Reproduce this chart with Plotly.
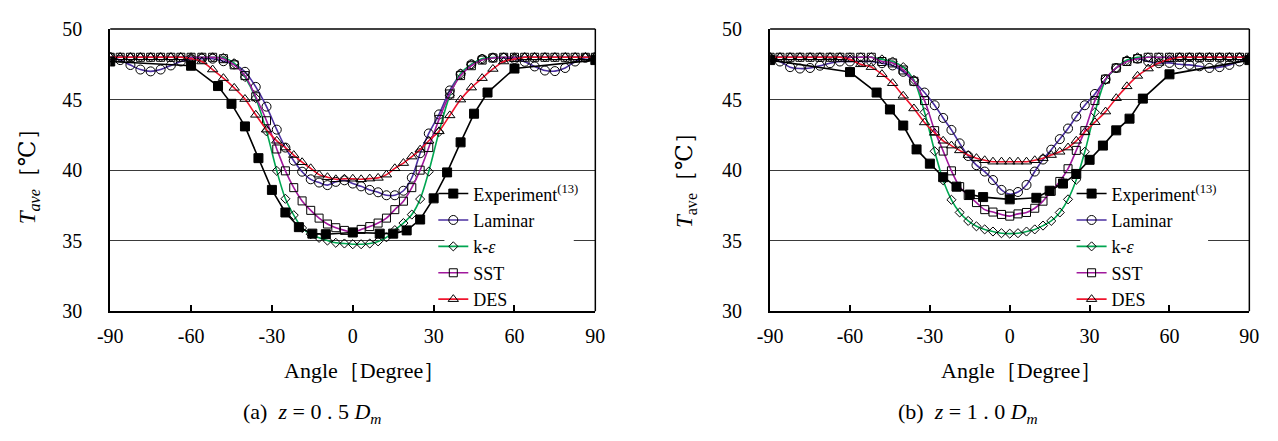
import plotly.graph_objects as go

# ---------------- data ----------------
ANGLE_SIM = [-90, -86.3, -82.5, -78.8, -75, -71.3, -67.5, -63.8, -60, -56, -52, -48, -44, -40, -36, -32,
             -28.2, -25, -21.9, -18.8, -15.6, -12.5, -9.4, -6.3, -3.1, 0, 3.1, 6.3, 9.4, 12.5, 15.6, 18.8,
             21.9, 25, 28.2, 32, 36, 40, 44, 48, 52, 56, 60, 63.8, 67.5, 71.3, 75, 78.8, 82.5, 86.3, 90]
ANGLE_EXP = [-90, -60, -50, -45, -40, -35, -30, -25, -20, -15, -10, 0, 10, 15, 20, 25, 30, 35, 40, 45, 50, 60, 90]

X_TICKS = [-90, -60, -30, 0, 30, 60, 90]
X_TICK_TEXT = ["-90", "-60", "-30", "0", "30", "60", "90"]
Y_TICKS = [30, 35, 40, 45, 50]

# panel (a) z = 0.5 Dm
EXP_A = [47.7, 47.4, 45.96, 44.7, 43.1, 40.85, 38.6, 37.0, 35.96, 35.5, 35.46, 35.58, 35.5, 35.5, 35.73,
         36.5, 38.0, 39.84, 41.97, 44.0, 45.5, 47.2, 47.8]
LAM_A = [48.0, 47.8, 47.45, 47.13, 47.0, 47.13, 47.42, 47.7, 47.85, 47.9, 47.9, 47.72, 47.5, 46.97, 45.9, 44.5,
         42.87, 41.6, 40.67, 39.89, 39.35, 39.12, 38.94, 39.17, 39.28, 39.05, 38.85, 38.6, 38.43, 38.22, 38.22, 38.54,
         39.46, 41.2, 42.6, 43.95, 45.65, 46.8, 47.5, 47.87, 47.97, 47.95, 47.88, 47.68, 47.35, 47.06, 47.02, 47.24, 47.7, 47.96, 48.0]
KE_A = [48.0, 48.0, 48.0, 48.0, 48.0, 48.0, 48.0, 48.0, 48.0, 48.0, 48.0, 47.96, 47.58, 46.6, 45.1, 42.75,
        39.95, 37.97, 36.81, 35.9, 35.46, 35.2, 35.01, 34.85, 34.8, 34.75, 34.75, 34.8, 34.95, 35.24, 35.75, 36.25,
        36.85, 37.95, 39.9, 42.7, 45.3, 46.85, 47.5, 47.9, 47.98, 48.0, 48.0, 48.0, 48.0, 48.0, 48.0, 48.0, 48.0, 48.0, 48.0]
SST_A = [48.0, 48.0, 48.0, 48.0, 48.0, 48.0, 48.0, 48.0, 48.0, 48.0, 48.0, 47.9, 47.46, 46.7, 45.2, 43.5,
         41.5, 39.95, 38.76, 37.82, 37.15, 36.6, 36.18, 35.92, 35.73, 35.6, 35.8, 36.0, 36.25, 36.6, 37.2, 37.8,
         38.76, 40.0, 41.6, 43.6, 45.4, 46.7, 47.4, 47.8, 47.95, 48.0, 48.0, 48.0, 48.0, 48.0, 48.0, 48.0, 48.0, 48.0, 48.0]
DES_A = [48.0, 48.0, 48.0, 48.0, 48.0, 48.0, 48.0, 48.0, 47.9, 47.7, 47.13, 46.52, 45.83, 45.04, 43.92, 42.87,
         42.08, 41.6, 41.07, 40.56, 40.13, 39.68, 39.5, 39.35, 39.39, 39.39, 39.35, 39.4, 39.45, 39.68, 40.13, 40.5,
         40.96, 41.45, 42.08, 42.75, 43.88, 45.0, 45.85, 46.52, 47.17, 47.7, 47.87, 48.0, 48.0, 48.0, 48.0, 48.0, 48.0, 48.0, 48.0]

# panel (b) z = 1.0 Dm
EXP_B = [47.8, 46.95, 45.5, 44.3, 43.16, 41.47, 40.46, 39.5, 38.83, 38.27, 38.09, 37.93, 38.04, 38.54, 39.05,
         39.73, 40.73, 41.74, 42.82, 43.65, 45.07, 46.79, 47.8]
LAM_B = [47.9, 47.7, 47.3, 47.2, 47.24, 47.4, 47.58, 47.7, 47.7, 47.7, 47.7, 47.58, 47.42, 46.97, 46.3, 45.5,
         44.6, 43.7, 42.85, 41.9, 41.0, 40.35, 39.9, 39.3, 38.6, 38.3, 38.45, 38.95, 39.9, 40.75, 41.45, 42.2,
         42.95, 43.8, 44.6, 45.4, 46.45, 47.24, 47.73, 47.9, 47.7, 47.58, 47.6, 47.5, 47.46, 47.36, 47.24, 47.3, 47.46, 47.7, 47.9]
KE_B = [48.0, 48.0, 48.0, 48.0, 48.0, 48.0, 48.0, 48.0, 48.0, 48.0, 48.0, 47.85, 47.7, 47.3, 46.4, 44.1,
        41.34, 39.28, 37.9, 37.0, 36.4, 36.02, 35.8, 35.65, 35.53, 35.5, 35.53, 35.65, 35.8, 36.07, 36.4, 37.0,
        37.93, 39.32, 41.3, 44.1, 46.39, 47.24, 47.8, 48.0, 48.0, 48.0, 48.0, 48.0, 48.0, 48.0, 48.0, 48.0, 48.0, 48.0, 48.0]
SST_B = [48.0, 48.0, 48.0, 48.0, 48.0, 48.0, 48.0, 48.0, 48.0, 48.0, 48.0, 47.7, 47.6, 47.1, 46.3, 44.93,
         42.8, 41.35, 39.95, 38.83, 38.2, 37.7, 37.2, 37.03, 36.86, 36.74, 36.9, 37.0, 37.3, 37.8, 38.5, 39.2,
         40.1, 41.4, 42.8, 44.93, 46.45, 47.24, 47.7, 47.9, 48.0, 48.0, 48.0, 48.0, 48.0, 48.0, 48.0, 48.0, 48.0, 48.0, 48.0]
DES_B = [48.0, 48.0, 48.0, 48.0, 48.0, 48.0, 48.0, 48.0, 47.85, 47.5, 47.3, 46.8, 46.16, 45.27, 44.37, 43.38,
         42.64, 42.08, 41.74, 41.4, 41.07, 40.85, 40.7, 40.6, 40.6, 40.6, 40.6, 40.6, 40.7, 40.85, 41.07, 41.3,
         41.6, 42.08, 42.7, 43.4, 44.15, 45.1, 45.94, 46.68, 47.2, 47.6, 47.85, 48.0, 48.0, 48.0, 48.0, 48.0, 48.0, 48.0, 48.0]

NAMES = ["Experiment<sup>(13)</sup>", "Laminar", "k-<i>ε</i>", "SST", "DES"]
COLORS = ["#000000", "#4B2FA0", "#00A651", "#A0189C", "#F0142D"]
SYMBOLS = ["square", "circle-open", "diamond-open", "square-open", "triangle-up-open"]
MSIZES = [9, 9, 7, 8, 9]

FONT = "Liberation Serif, Times New Roman, DejaVu Serif, serif"

fig = go.Figure()

panels = [
    ("x", "y", "legend", [EXP_A, LAM_A, KE_A, SST_A, DES_A]),
    ("x2", "y2", "legend2", [EXP_B, LAM_B, KE_B, SST_B, DES_B]),
]

for xa, ya, lg, series in panels:
    for i in [1, 2, 3, 4, 0]:
        is_exp = i == 0
        fig.add_trace(go.Scatter(
            x=ANGLE_EXP if is_exp else ANGLE_SIM,
            y=series[i],
            xaxis=xa, yaxis=ya, legend=lg,
            name=NAMES[i], legendrank=i + 1,
            mode="lines+markers",
            line=dict(color=COLORS[i], width=1.6, shape="linear" if is_exp else "spline", smoothing=0.9),
            marker=dict(symbol=SYMBOLS[i], size=MSIZES[i], color="#000000", line=dict(width=1, color="#000000")),
        ))

axis_common_x = dict(range=[-90, 90], tickvals=X_TICKS, ticktext=X_TICK_TEXT, ticks="inside", ticklen=6,
                     tickwidth=1.5, tickcolor="#000", showline=True, linecolor="#000", linewidth=2,
                     showgrid=False, zeroline=False, tickfont=dict(family=FONT, size=20, color="#000"),
                     ticklabelstandoff=6)
axis_common_y = dict(range=[30, 50], tickvals=Y_TICKS, ticks="", showline=True, linecolor="#000", linewidth=2,
                     showgrid=True, gridcolor="#3a3a3a", gridwidth=1, zeroline=False,
                     tickfont=dict(family=FONT, size=20, color="#000"), ticklabelstandoff=22)

YDOM = [1 - 316 / 441, 1 - 19 / 441]
fig.update_layout(
    width=1278, height=441, margin=dict(l=0, r=0, t=0, b=0),
    paper_bgcolor="white", plot_bgcolor="white",
    font=dict(family=FONT, color="#000"),
    xaxis=dict(domain=[99 / 1278, 593 / 1278], anchor="y", **axis_common_x),
    yaxis=dict(domain=YDOM, anchor="x", **axis_common_y),
    xaxis2=dict(domain=[771 / 1278, 1259 / 1278], anchor="y2", **axis_common_x),
    yaxis2=dict(domain=YDOM, anchor="x2", **axis_common_y),
    legend=dict(x=428 / 1278, y=1 - 173 / 441, xanchor="left", yanchor="top", bgcolor="rgba(0,0,0,0)",
                font=dict(family=FONT, size=18, color="#000"), tracegroupgap=0, itemwidth=30),
    legend2=dict(x=1078 / 1278, y=1 - 173 / 441, xanchor="left", yanchor="top", bgcolor="rgba(0,0,0,0)",
                 font=dict(family=FONT, size=18, color="#000"), tracegroupgap=0, itemwidth=30),
    showlegend=True,
)

shapes = []
for xr, yr, gap in [("x", "y", (34, 82)), ("x2", "y2", (26.5, 74.5))]:
    shapes.append(dict(type="line", xref=f"{xr} domain", yref=f"{yr} domain", x0=0, x1=1, y0=1, y1=1,
                       line=dict(color="#000", width=1.5)))
    shapes.append(dict(type="line", xref=f"{xr} domain", yref=f"{yr} domain", x0=1, x1=1, y0=0, y1=1,
                       line=dict(color="#000", width=1.5)))
    shapes.append(dict(type="rect", xref=xr, yref=yr, x0=gap[0], x1=gap[1], y0=34.6, y1=35.4,
                       fillcolor="white", line=dict(width=0), layer="between"))
fig.update_layout(shapes=shapes)

NB = "\u00a0"
ann = []
ann.append(dict(text="<i>T<sub>ave</sub></i>［℃］", x=16 / 1278, y=1 - 168 / 441, textangle=-90, size=23))
ann.append(dict(text="<i>T</i><sub>ave</sub>［℃］", x=686 / 1278, y=1 - 172 / 441, textangle=-90, size=23))
ann.append(dict(text="Angle［Degree］", x=358 / 1278, y=1 - 378 / 441, textangle=0, size=22))
ann.append(dict(text="Angle［Degree］", x=1027 / 1278, y=1 - 378 / 441, textangle=0, size=22))
ann.append(dict(text=f"(a){NB}{NB}<i>z</i>{NB}={NB}0{NB}.{NB}5{NB}<i>D<sub>m</sub></i>",
                x=304 / 1278, y=1 - 423 / 441, textangle=0, size=22))
ann.append(dict(text=f"(b){NB}{NB}<i>z</i>{NB}={NB}1{NB}.{NB}0{NB}<i>D<sub>m</sub></i>",
                x=973 / 1278, y=1 - 423 / 441, textangle=0, size=22))
final_ann = []
for a in ann:
    size = a.pop("size")
    a.update(xref="paper", yref="paper", xanchor="center", yanchor="middle", showarrow=False,
             font=dict(family=FONT, size=size, color="#000"))
    final_ann.append(a)
fig.update_layout(annotations=final_ann)

fig.write_html("out.html")
